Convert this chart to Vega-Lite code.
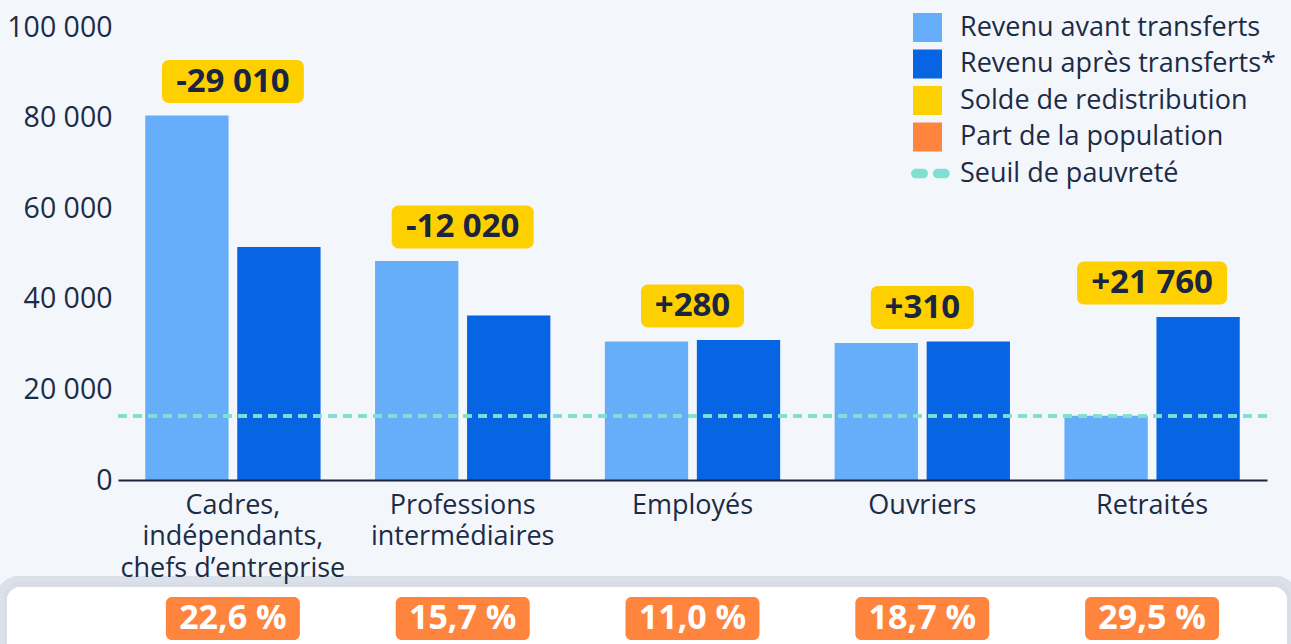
{
  "$schema": "https://vega.github.io/schema/vega-lite/v6.json",
  "width": 1149,
  "height": 453,
  "autosize": {"type": "none"},
  "padding": {"left": 118, "top": 27, "right": 24, "bottom": 164},
  "background": "#f3f6fa",
  "config": {
    "view": {"stroke": null},
    "font": "Open Sans",
    "axis": {"title": null},
    "locale": {"number": {"decimal": ",", "thousands": " ", "grouping": [3], "currency": ["", " €"], "minus": "-", "percent": " %"}}
  },
  "data": {
    "values": [
      {"cat": "Cadres,\nindépendants,\nchefs d’entreprise", "serie": "Revenu avant transferts", "value": 80440, "solde": -29010, "part": 0.226},
      {"cat": "Cadres,\nindépendants,\nchefs d’entreprise", "serie": "Revenu après transferts*", "value": 51430, "solde": -29010, "part": 0.226},
      {"cat": "Professions\nintermédiaires", "serie": "Revenu avant transferts", "value": 48360, "solde": -12020, "part": 0.157},
      {"cat": "Professions\nintermédiaires", "serie": "Revenu après transferts*", "value": 36340, "solde": -12020, "part": 0.157},
      {"cat": "Employés", "serie": "Revenu avant transferts", "value": 30600, "solde": 280, "part": 0.110},
      {"cat": "Employés", "serie": "Revenu après transferts*", "value": 30880, "solde": 280, "part": 0.110},
      {"cat": "Ouvriers", "serie": "Revenu avant transferts", "value": 30250, "solde": 310, "part": 0.187},
      {"cat": "Ouvriers", "serie": "Revenu après transferts*", "value": 30560, "solde": 310, "part": 0.187},
      {"cat": "Retraités", "serie": "Revenu avant transferts", "value": 14200, "solde": 21760, "part": 0.295},
      {"cat": "Retraités", "serie": "Revenu après transferts*", "value": 35960, "solde": 21760, "part": 0.295}
    ]
  },
  "layer": [
    {
      "mark": {"type": "rect", "fill": "#dde2e9", "opacity": 0.4, "xOffset": -121, "x2Offset": 30, "yOffset": 96, "y2Offset": 220, "cornerRadius": 22},
      "encoding": {"x": {"value": 0}, "x2": {"value": "width"}, "y": {"datum": 0}, "y2": {"datum": 0}}
    },
    {
      "mark": {"type": "rect", "fill": "#d8dde5", "opacity": 0.55, "xOffset": -114, "x2Offset": 23, "yOffset": 102, "y2Offset": 220, "cornerRadius": 17},
      "encoding": {"x": {"value": 0}, "x2": {"value": "width"}, "y": {"datum": 0}, "y2": {"datum": 0}}
    },
    {
      "mark": {"type": "rect", "fill": "#ffffff", "xOffset": -111, "x2Offset": 20, "yOffset": 107, "y2Offset": 220, "cornerRadius": 14},
      "encoding": {"x": {"value": 0}, "x2": {"value": "width"}, "y": {"datum": 0}, "y2": {"datum": 0}}
    },
    {
      "mark": {"type": "bar"},
      "encoding": {
        "x": {
          "field": "cat", "type": "nominal", "sort": null,
          "scale": {"paddingInner": 0, "paddingOuter": 0},
          "axis": {"labelExpr": "split(datum.label, '\\n')", "labelFontSize": 27, "labelLineHeight": 31.5, "labelColor": "#1c2b46", "labelPadding": 12, "labelLimit": 0, "labelAngle": 0, "ticks": false, "tickSize": 0, "domainColor": "#1b2540", "domainWidth": 2, "zindex": 1, "labelBound": false}
        },
        "xOffset": {"field": "serie", "type": "nominal", "scale": {"domain": ["Revenu avant transferts", "Revenu après transferts*"], "paddingInner": 0.0946, "paddingOuter": 0.296}},
        "y": {
          "field": "value", "type": "quantitative",
          "scale": {"domain": [0, 100000], "nice": false},
          "axis": {"values": [0, 20000, 40000, 60000, 80000, 100000], "format": ",d", "labelFontSize": 28.5, "labelColor": "#1c2b46", "domain": false, "ticks": false, "labelPadding": 6, "gridColor": "#cdd1d8", "gridWidth": 1.2}
        },
        "color": {
          "field": "serie", "type": "nominal",
          "scale": {
            "domain": ["Revenu avant transferts", "Revenu après transferts*", "Solde de redistribution", "Part de la population", "Seuil de pauvreté"],
            "range": ["#66aef9", "#0765e3", "#ffd000", "#ff853f", "#7fdfd1"]
          },
          "legend": {
            "title": null, "orient": "none", "legendX": 779, "legendY": -30, "direction": "vertical",
            "symbolType": "square", "symbolSize": 841, "symbolStrokeWidth": 0,
            "labelFont": "Open Sans", "labelFontSize": 27, "labelColor": "#1c2b46", "labelLimit": 0, "labelOffset": 18,
            "rowPadding": 7.5, "fillColor": "#f3f6fa", "padding": 16,
            "encode": {"symbols": {"update": {"shape": {"signal": "datum.value === 'Seuil de pauvreté' ? 'M-0.8,-0.33H-0.3A0.33,0.33 0 0 1 -0.3,0.33H-0.8A0.33,0.33 0 0 1 -0.8,-0.33ZM0.7,-0.33H1.2A0.33,0.33 0 0 1 1.2,0.33H0.7A0.33,0.33 0 0 1 0.7,-0.33Z' : 'square'"}}}}
          }
        }
      }
    },
    {
      "mark": {"type": "rule", "color": "#7fdfd1", "strokeWidth": 2.5, "strokeDash": [9, 6]},
      "encoding": {"y": {"datum": 14130}}
    },
    {
      "transform": [{"aggregate": [{"op": "max", "field": "value", "as": "top"}], "groupby": ["cat", "solde", "part"]}],
      "layer": [
        {
          "mark": {"type": "rect", "fill": "#ffd000", "height": 43, "width": {"expr": "19*length(toString(abs(datum.solde))) + (datum.solde > 0 ? 46 : 38) + (abs(datum.solde) >= 1000 ? 9 : 0)"}, "yOffset": -34, "cornerRadius": 7},
          "encoding": {"x": {"field": "cat", "type": "nominal", "sort": null}, "y": {"field": "top", "type": "quantitative"}}
        },
        {
          "mark": {"type": "text", "yOffset": -34, "baseline": "middle", "fontWeight": "bold", "fontSize": 33, "color": "#1a2540", "font": "Open Sans"},
          "encoding": {"x": {"field": "cat", "type": "nominal", "sort": null}, "y": {"field": "top", "type": "quantitative"}, "text": {"field": "solde", "type": "quantitative", "format": "+,d"}}
        },
        {
          "mark": {"type": "rect", "fill": "#ff853f", "height": 43, "width": 134, "yOffset": 138.5, "cornerRadius": 6},
          "encoding": {"x": {"field": "cat", "type": "nominal", "sort": null}, "y": {"datum": 0}}
        },
        {
          "mark": {"type": "text", "yOffset": 138.5, "baseline": "middle", "fontWeight": "bold", "fontSize": 34, "color": "#ffffff", "font": "Open Sans"},
          "encoding": {"x": {"field": "cat", "type": "nominal", "sort": null}, "y": {"datum": 0}, "text": {"field": "part", "type": "quantitative", "format": ".1%"}}
        }
      ]
    }
  ]
}
